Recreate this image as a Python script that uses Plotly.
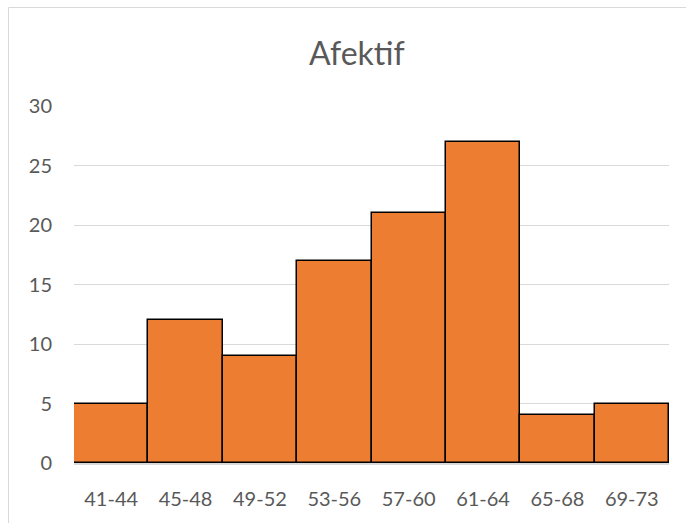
import plotly.graph_objects as go

# Class intervals and frequencies
categories = ["41-44", "45-48", "49-52", "53-56", "57-60", "61-64", "65-68", "69-73"]
frequencies = [5, 12, 9, 17, 21, 27, 4, 5]
y_ticks = [0, 5, 10, 15, 20, 25, 30]

W, H = 686, 523
L, R, T, B = 74, 17, 106, 60
pw, ph = W - L - R, H - T - B

def px_x(x):
    return (x - L) / pw

def px_y(y):
    return (H - B - y) / ph

font_family = "Lato, 'Open Sans', sans-serif"
text_color = "#595959"

fig = go.Figure(
    go.Bar(
        x=categories,
        y=frequencies,
        marker=dict(color="#ED7D31", line=dict(color="#000000", width=1.5)),
        hoverinfo="x+y",
    )
)

fig.update_layout(
    width=W,
    height=H,
    margin=dict(l=L, r=R, t=T, b=B),
    paper_bgcolor="white",
    plot_bgcolor="white",
    bargap=0,
    showlegend=False,
    font=dict(family=font_family, color=text_color, size=20),
    xaxis=dict(
        type="category",
        showgrid=False,
        showline=True,
        linecolor="#D9D9D9",
        linewidth=1.5,
        ticks="",
        tickfont=dict(size=20, color=text_color),
        ticklabelstandoff=17,
    ),
    yaxis=dict(
        range=[0, 30],
        tickvals=y_ticks,
        showgrid=True,
        gridcolor="#D9D9D9",
        gridwidth=1,
        zeroline=False,
        showline=False,
        ticks="",
        tickfont=dict(size=20, color=text_color),
        ticklabelstandoff=21,
    ),
    annotations=[
        dict(
            text="Afektif",
            xref="paper",
            yref="paper",
            x=px_x(357),
            y=px_y(52),
            xanchor="center",
            yanchor="middle",
            showarrow=False,
            font=dict(size=32, color=text_color, family=font_family),
        )
    ],
    shapes=[
        dict(
            type="rect",
            xref="paper",
            yref="paper",
            x0=px_x(8.5),
            y0=px_y(540),
            x1=px_x(700),
            y1=px_y(7.5),
            line=dict(color="#D9D9D9", width=1),
            fillcolor="rgba(0,0,0,0)",
            layer="below",
        )
    ],
)

fig.write_html("out.html")
